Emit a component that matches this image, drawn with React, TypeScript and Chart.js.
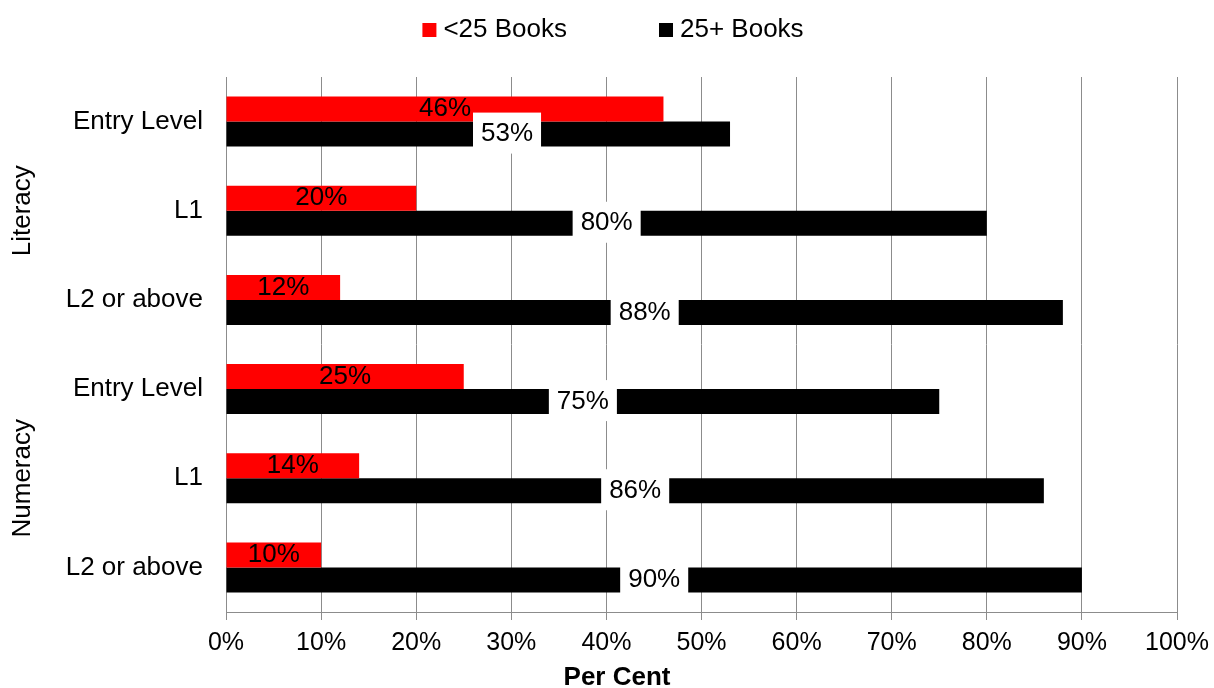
import React, { useEffect, useRef } from "react";
import { Chart, registerables } from "chart.js";

Chart.register(...registerables);

const categories = ["Entry Level", "L1", "L2 or above", "Entry Level", "L1", "L2 or above"];
const groupNames = ["Literacy", "Numeracy"];
const groupSizes = [3, 3];
const seriesNames = ["<25 Books", "25+ Books"];
const under25 = [46, 20, 12, 25, 14, 10];
const over25 = [53, 80, 88, 75, 86, 90];
const xTicks = [0, 10, 20, 30, 40, 50, 60, 70, 80, 90, 100];
const xTitle = "Per Cent";

const FONT = "'Liberation Sans', Arial, sans-serif";
const GRID = "#8c8c8c";
const COLORS = ["#ff0000", "#000000"];

const overlayPlugin = {
  id: "overlay",
  afterDatasetsDraw(chart: any) {
    const ctx = chart.ctx;
    ctx.save();
    ctx.font = `26px ${FONT}`;
    ctx.textBaseline = "middle";
    ctx.textAlign = "center";
    const m0 = chart.getDatasetMeta(0);
    const m1 = chart.getDatasetMeta(1);
    const ds0 = chart.data.datasets[0].data;
    const ds1 = chart.data.datasets[1].data;
    for (let i = 0; i < ds0.length; i++) {
      const b0 = m0.data[i];
      const t0 = ds0[i] + "%";
      const cx0 = (b0.base + b0.x) / 2;
      const w0 = ctx.measureText(t0).width;
      ctx.fillStyle = "#000";
      ctx.fillText(t0, cx0, b0.y);
      const b1 = m1.data[i];
      const t1 = ds1[i] + "%";
      const w1 = ctx.measureText(t1).width;
      const bw = w1 + 16;
      const bh = 41;
      let left = (b1.base + b1.x) / 2 - bw / 2;
      const redRight = cx0 + w0 / 2;
      if (left < redRight + 2) left = redRight + 2;
      ctx.fillStyle = "#fff";
      ctx.fillRect(left, b1.y - bh / 2 - 1, bw, bh);
      ctx.fillStyle = "#000";
      ctx.fillText(t1, left + bw / 2, b1.y);
    }
    ctx.restore();
  },
  afterDraw(chart: any) {
    const ctx = chart.ctx;
    const yScale = chart.scales.y;
    ctx.save();
    ctx.fillStyle = "#000";
    // group labels
    ctx.font = `26px ${FONT}`;
    ctx.textAlign = "center";
    ctx.textBaseline = "middle";
    let start = 0;
    groupNames.forEach((g, gi) => {
      const end = start + groupSizes[gi] - 1;
      const y = (yScale.getPixelForValue(start) + yScale.getPixelForValue(end)) / 2;
      ctx.save();
      ctx.translate(23, y);
      ctx.rotate(-Math.PI / 2);
      ctx.fillText(g, 0, 0);
      ctx.restore();
      start = end + 1;
    });
    // x title
    ctx.font = `bold 26px ${FONT}`;
    ctx.fillText(xTitle, chart.width / 2 + 10, 678);
    // legend
    ctx.font = `26px ${FONT}`;
    ctx.textAlign = "left";
    const box = 14;
    const gap = 7;
    const itemGap = 92;
    const widths = seriesNames.map((s) => ctx.measureText(s).width);
    let total = 0;
    widths.forEach((w, i) => {
      total += box + gap + w + (i < widths.length - 1 ? itemGap : 0);
    });
    let x = chart.width / 2 + 6 - total / 2;
    const ly = 30;
    seriesNames.forEach((s, i) => {
      ctx.fillStyle = COLORS[i];
      ctx.fillRect(x, ly - box / 2, box, box);
      ctx.fillStyle = "#000";
      ctx.fillText(s, x + box + gap, ly);
      x += box + gap + widths[i] + itemGap;
    });
    ctx.restore();
  },
};

export default function App() {
  const ref = useRef<HTMLCanvasElement | null>(null);
  useEffect(() => {
    if (!ref.current) return;
    const chart = new Chart(ref.current, {
      type: "bar",
      data: {
        labels: categories,
        datasets: [
          {
            label: seriesNames[0],
            data: under25,
            backgroundColor: COLORS[0],
            categoryPercentage: 0.561,
            barPercentage: 1,
          },
          {
            label: seriesNames[1],
            data: over25,
            backgroundColor: COLORS[1],
            categoryPercentage: 0.561,
            barPercentage: 1,
          },
        ],
      },
      options: {
        indexAxis: "y",
        responsive: false,
        animation: false,
        devicePixelRatio: 1,
        layout: { padding: { top: 77, right: 0, bottom: 0, left: 0 } },
        plugins: {
          legend: { display: false },
          tooltip: { enabled: false },
        },
        scales: {
          x: {
            min: 0,
            max: 100,
            afterBuildTicks(scale: any) {
              scale.ticks = xTicks.map((v) => ({ value: v }));
            },
            afterFit(scale: any) {
              scale.height = 76;
              scale.paddingRight = 37;
              scale.paddingLeft = 0;
            },
            ticks: {
              callback: (v: any) => v + "%",
              font: { family: FONT, size: 25 },
              color: "#000",
              padding: 8,
              maxRotation: 0,
            },
            grid: { color: GRID, lineWidth: 1, drawTicks: true, tickLength: 8, tickColor: GRID },
            border: { display: true, color: GRID },
          },
          y: {
            afterFit(scale: any) {
              scale.width = 226;
            },
            ticks: {
              font: { family: FONT, size: 26 },
              color: "#000",
              padding: 23,
            },
            grid: { display: false, drawTicks: false },
            border: { display: true, color: GRID },
          },
        },
      },
      plugins: [overlayPlugin],
    });
    return () => chart.destroy();
  }, []);
  return (
    <div style={{ position: "absolute", left: 0, top: 0, width: 1214, height: 688, background: "#fff" }}>
      <canvas ref={ref} width={1214} height={688} style={{ display: "block" }} />
    </div>
  );
}
